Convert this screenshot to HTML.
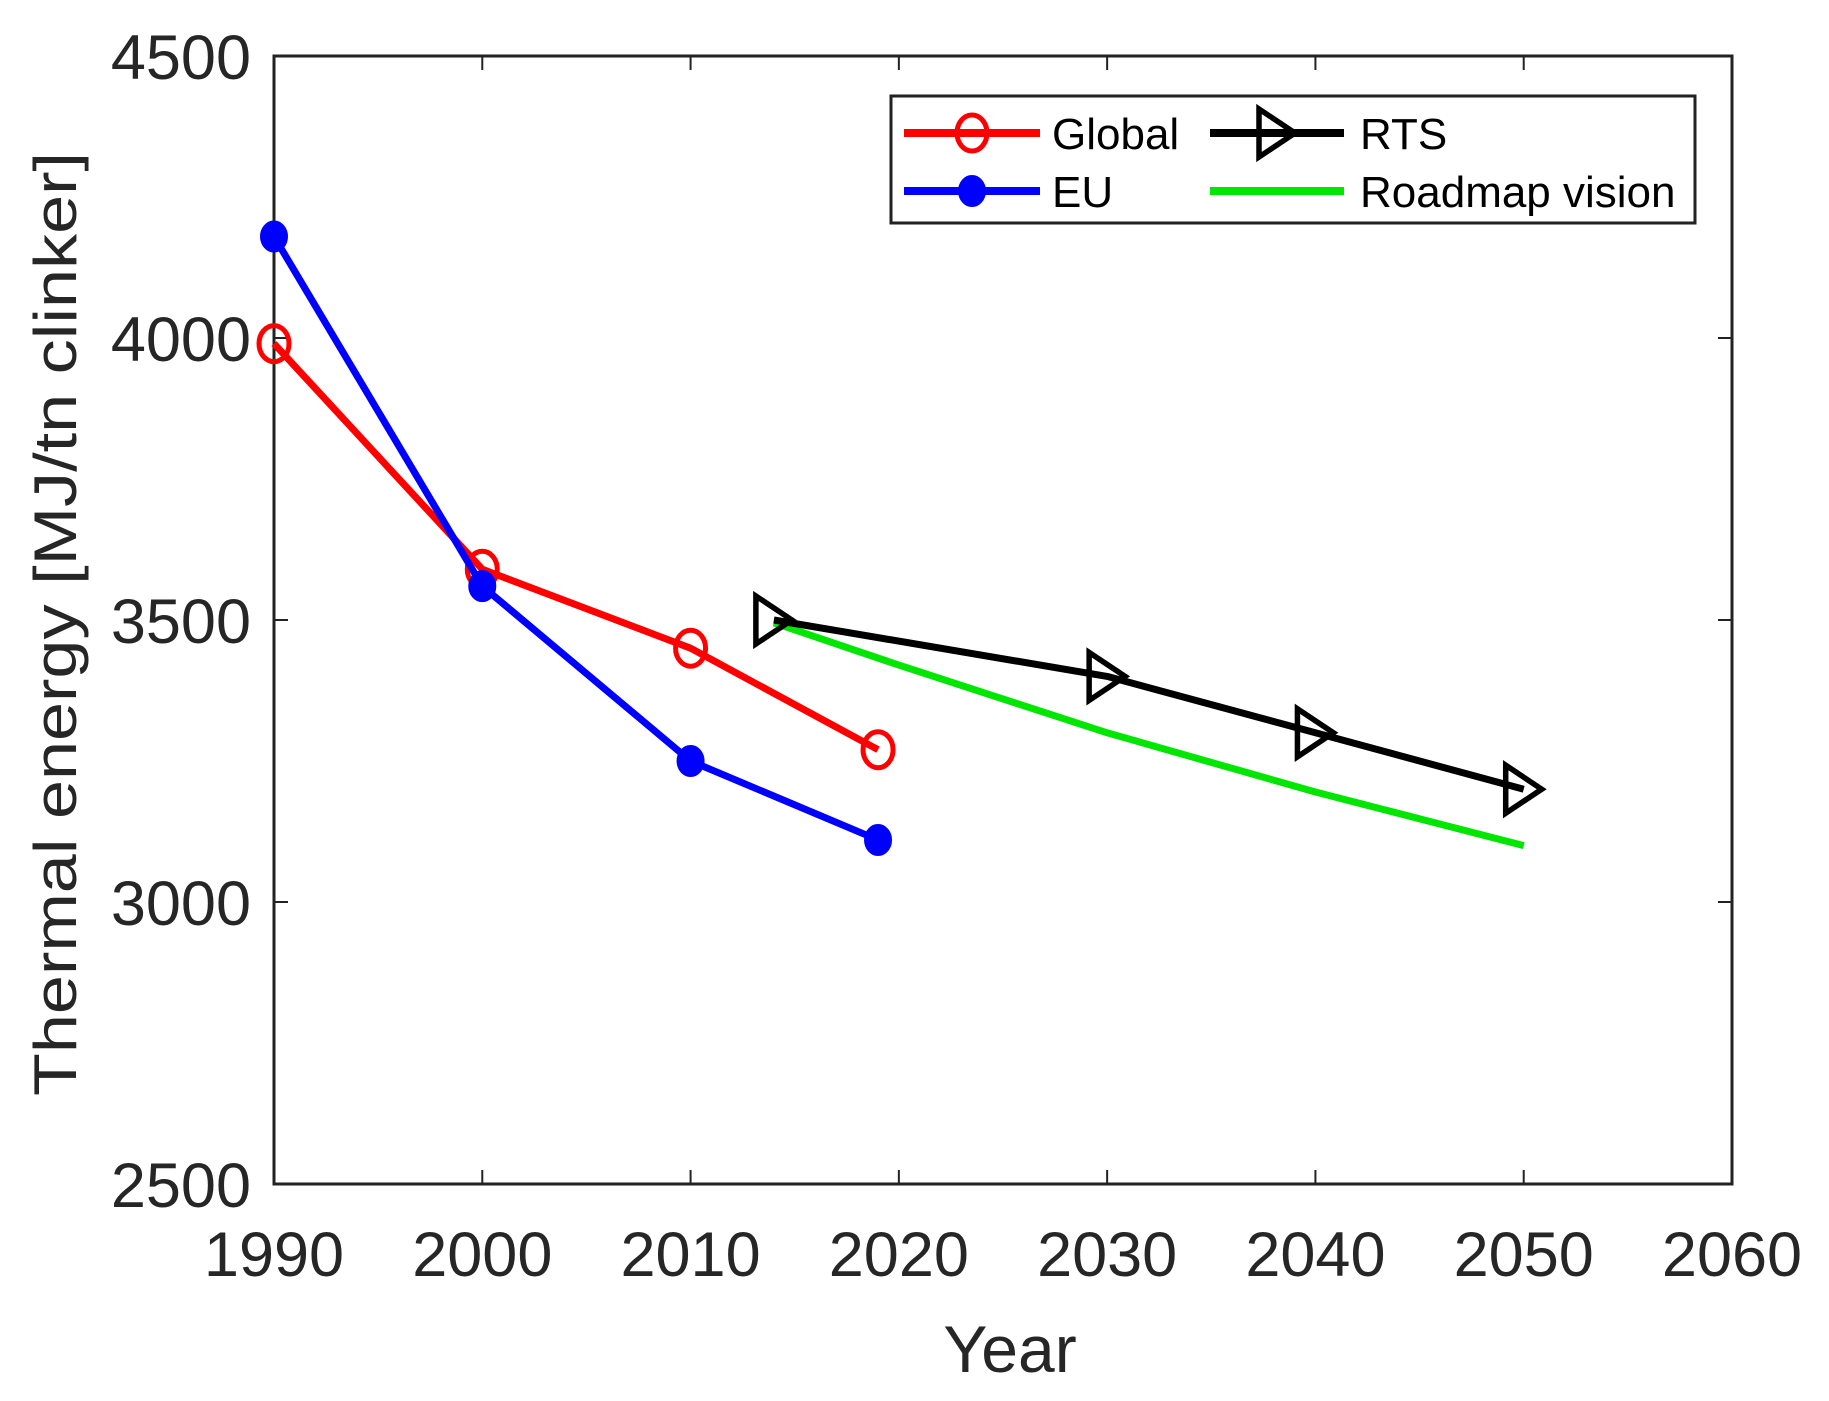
<!DOCTYPE html>
<html><head><meta charset="utf-8"><style>
html,body{margin:0;padding:0;background:#fff}
svg{display:block;font-family:"Liberation Sans",Arial,sans-serif}
</style></head><body>
<svg id="chart" width="1829" height="1401" viewBox="0 0 1829 1401" xmlns="http://www.w3.org/2000/svg">
<rect x="0" y="0" width="1829" height="1401" fill="#fff"/>
<g id="axes"></g>
<g id="series"></g>
<g id="legend"></g>
</svg>
<script>
const xTicks = [1990, 2000, 2010, 2020, 2030, 2040, 2050, 2060];
const yTicks = [2500, 3000, 3500, 4000, 4500];
const globalYears = [1990, 2000, 2010, 2019];
const globalValues = [3990, 3590, 3450, 3270];
const euYears = [1990, 2000, 2010, 2019];
const euValues = [4180, 3560, 3250, 3110];
const rtsYears = [2014, 2030, 2040, 2050];
const rtsValues = [3500, 3400, 3300, 3200];
const roadmapYears = [2014, 2020, 2030, 2040, 2050];
const roadmapValues = [3495, 3420, 3300, 3195, 3100];

const NS = "http://www.w3.org/2000/svg";
const L = 274, R = 1732, T = 56, B = 1184;
const xMin = 1990, xMax = 2060, yMin = 2500, yMax = 4500;
function xs(v){ return L + (v - xMin) / (xMax - xMin) * (R - L); }
function ys(v){ return B - (v - yMin) / (yMax - yMin) * (B - T); }
function mk(tag, attrs, parent){
  const e = document.createElementNS(NS, tag);
  for (const k in attrs) e.setAttribute(k, attrs[k]);
  parent.appendChild(e);
  return e;
}
const axes = document.getElementById('axes');
const series = document.getElementById('series');
const legend = document.getElementById('legend');

const frame = mk('rect', {x:L, y:T, width:R-L, height:B-T, fill:'none', stroke:'#222', 'stroke-width':3}, axes);



xTicks.forEach(t => {
  const x = xs(t);
  const tk = mk('line', {x1:x, y1:B, x2:x, y2:B-14, stroke:'#222', 'stroke-width':2}, axes);
  
  
  mk('line', {x1:x, y1:T, x2:x, y2:T+14, stroke:'#222', 'stroke-width':2}, axes);
  const lb = mk('text', {x:x, y:1276, 'text-anchor':'middle', 'font-size':63, fill:'#262626'}, axes);
  lb.textContent = t;
  
  
});
yTicks.forEach(t => {
  const y = ys(t);
  const tk = mk('line', {x1:L, y1:y, x2:L+14, y2:y, stroke:'#222', 'stroke-width':2}, axes);
  
  
  mk('line', {x1:R, y1:y, x2:R-14, y2:y, stroke:'#222', 'stroke-width':2}, axes);
  const lb = mk('text', {x:251, y:y+23, 'text-anchor':'end', 'font-size':63, fill:'#262626'}, axes);
  lb.textContent = t;
  
  
});
const xt = mk('text', {x:1010, y:1372, 'text-anchor':'middle', 'font-size':66, fill:'#262626'}, axes);
xt.textContent = 'Year';


const yt = mk('text', {x:0, y:0, 'text-anchor':'middle', 'font-size':60, fill:'#262626', transform:'translate(76,624) rotate(-90)', textLength:944, lengthAdjust:'spacingAndGlyphs'}, axes);
yt.textContent = 'Thermal energy [MJ/tn clinker]';



function pts(xsArr, vArr){ return xsArr.map((x,i)=> xs(x)+','+ys(vArr[i])).join(' '); }
function drawLine(xa, va, color, name){
  const p = mk('polyline', {points:pts(xa, va), fill:'none', stroke:color, 'stroke-width':7, 'stroke-linejoin':'round'}, series);
  
  
}
function circleMarker(cx, cy, parent, filled, color){
  return mk('ellipse', {cx:cx, cy:cy, rx: filled?13:15, ry: filled?15:18, fill: filled?color:'none', stroke:color, 'stroke-width': filled?2:5}, parent);
}
function triMarker(cx, cy, parent){
  const w = 36, h = 48;
  return mk('polygon', {points:(cx-w/2)+','+(cy-h/2)+' '+(cx+w/2)+','+cy+' '+(cx-w/2)+','+(cy+h/2), fill:'none', stroke:'#000', 'stroke-width':5.5}, parent);
}

drawLine(roadmapYears, roadmapValues, '#00e600', 'roadmap-vision-line');
drawLine(globalYears, globalValues, '#ff0000', 'global-line');
globalYears.forEach((yr,i)=>{
  const m = circleMarker(xs(yr), ys(globalValues[i]), series, false, '#ff0000');
  
  
});
drawLine(euYears, euValues, '#0000ff', 'eu-line');
euYears.forEach((yr,i)=>{
  const m = circleMarker(xs(yr), ys(euValues[i]), series, true, '#0000ff');
  
  
});
drawLine(rtsYears, rtsValues, '#000000', 'rts-line');
rtsYears.forEach((yr,i)=>{
  const m = triMarker(xs(yr), ys(rtsValues[i]), series);
  
  
});

const lb = mk('rect', {x:891, y:96, width:804, height:127, fill:'#fff', stroke:'#222', 'stroke-width':3}, legend);


function legendEntry(x1, x2, y, color, label, tx, marker, name){
  const g = mk('g', {}, legend);
  
  
  mk('line', {x1:x1, y1:y, x2:x2, y2:y, stroke:color, 'stroke-width':8}, g);
  const cx = (x1+x2)/2;
  if (marker === 'o') circleMarker(cx, y, g, false, color);
  if (marker === 'f') circleMarker(cx, y, g, true, color);
  if (marker === 't') triMarker(cx, y, g);
  const t = mk('text', {x:tx, y:y+16, 'font-size':44, fill:'#000'}, g);
  t.textContent = label;
}
legendEntry(904, 1040, 133, '#ff0000', 'Global', 1052, 'o', 'legend-entry-global');
legendEntry(904, 1040, 191, '#0000ff', 'EU', 1052, 'f', 'legend-entry-eu');
legendEntry(1210, 1344, 133, '#000000', 'RTS', 1360, 't', 'legend-entry-rts');
legendEntry(1210, 1344, 191, '#00e600', 'Roadmap vision', 1360, null, 'legend-entry-roadmap-vision');
</script>
</body></html>
